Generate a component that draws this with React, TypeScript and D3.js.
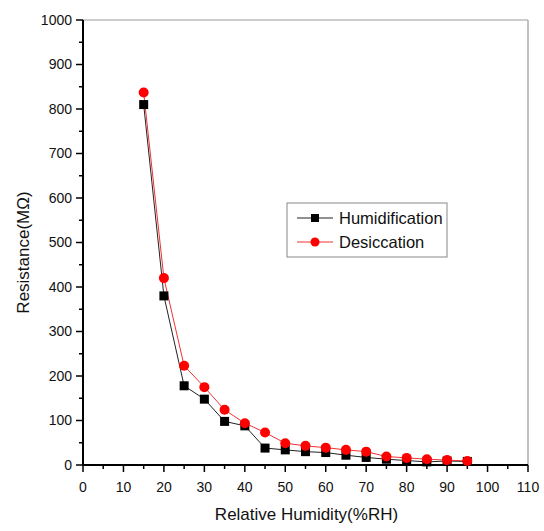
import React from 'react';
import * as d3 from 'd3';

// relative humidity (%RH)
const humidity = [15, 20, 25, 30, 35, 40, 45, 50, 55, 60, 65, 70, 75, 80, 85, 90, 95];
// resistance (MOhm)
const humidification = [810, 380, 178, 148, 98, 88, 38, 34, 30, 28, 22, 17, 13, 10, 7, 9, 8];
const desiccation = [837, 420, 223, 175, 124, 94, 73, 49, 43, 39, 34, 30, 19, 16, 13, 11, 9];

const xTicks = d3.range(0, 111, 10);
const yTicks = d3.range(0, 1001, 100);

const seriesNames = ['Humidification', 'Desiccation'];

export default function App() {
  const width = 544;
  const height = 531;
  const margin = { top: 20, right: 16, bottom: 66, left: 83 };
  const innerW = width - margin.left - margin.right;
  const innerH = height - margin.top - margin.bottom;

  const x = d3.scaleLinear().domain([0, 110]).range([0, innerW]);
  const y = d3.scaleLinear().domain([0, 1000]).range([innerH, 0]);

  const line = d3
    .line<[number, number]>()
    .x((d) => x(d[0]))
    .y((d) => y(d[1]));

  const hum: [number, number][] = humidity.map((h, i) => [h, humidification[i]]);
  const des: [number, number][] = humidity.map((h, i) => [h, desiccation[i]]);

  const font = 'Liberation Sans, Arial, sans-serif';
  const xMinor = d3.range(5, 110, 10);
  const yMinor = d3.range(50, 1000, 100);

  return (
    <svg width={width} height={height} style={{ position: 'absolute', left: 0, top: 0, background: '#fff' }}>
      <g transform={`translate(${margin.left},${margin.top})`} fontFamily={font}>
        {/* frame top/right */}
        <line x1={0} x2={innerW} y1={0} y2={0} stroke="#999" strokeWidth={1.2} />
        <line x1={innerW} x2={innerW} y1={0} y2={innerH} stroke="#999" strokeWidth={1.2} />

        {/* y axis */}
        <line x1={0} x2={0} y1={0} y2={innerH} stroke="#000" strokeWidth={2} />
        {yTicks.map((t) => (
          <g key={'yt' + t} transform={`translate(0,${y(t)})`}>
            <line x1={-7} x2={0} stroke="#000" strokeWidth={1.5} />
            <text x={-11} dy="0.35em" textAnchor="end" fontSize={14} fill="#111">
              {t}
            </text>
          </g>
        ))}
        {yMinor.map((t) => (
          <line key={'ym' + t} x1={-4} x2={0} y1={y(t)} y2={y(t)} stroke="#000" strokeWidth={1.5} />
        ))}

        {/* x axis */}
        <line x1={0} x2={innerW} y1={innerH} y2={innerH} stroke="#000" strokeWidth={2} />
        {xTicks.map((t) => (
          <g key={'xt' + t} transform={`translate(${x(t)},${innerH})`}>
            <line y1={0} y2={7} stroke="#000" strokeWidth={1.5} />
            <text y={27} textAnchor="middle" fontSize={14} fill="#111">
              {t}
            </text>
          </g>
        ))}
        {xMinor.map((t) => (
          <line key={'xm' + t} x1={x(t)} x2={x(t)} y1={innerH} y2={innerH + 4} stroke="#000" strokeWidth={1.5} />
        ))}

        {/* series */}
        <path d={line(hum) ?? ''} fill="none" stroke="#222" strokeWidth={1} />
        <path d={line(des) ?? ''} fill="none" stroke="#e33" strokeWidth={1} />
        {hum.map((d, i) => (
          <rect key={'h' + i} x={x(d[0]) - 4.5} y={y(d[1]) - 4.5} width={9} height={9} fill="#000" />
        ))}
        {des.map((d, i) => (
          <circle key={'d' + i} cx={x(d[0])} cy={y(d[1])} r={5} fill="#f00" />
        ))}

        {/* legend */}
        <g transform={`translate(${287 - margin.left},${203 - margin.top})`}>
          <rect x={0} y={0} width={160} height={54} fill="#fff" stroke="#888" strokeWidth={1} />
          {seriesNames.map((name, i) => (
            <g key={name} transform={`translate(0,${15 + i * 24})`}>
              <line x1={10} x2={46} stroke={i === 0 ? '#222' : '#e33'} strokeWidth={1} />
              {i === 0 ? (
                <rect x={24} y={-4} width={8} height={8} fill="#000" />
              ) : (
                <circle cx={28} cy={0} r={4.5} fill="#f00" />
              )}
              <text x={52} dy="0.35em" fontSize={16.5} fill="#111">
                {name}
              </text>
            </g>
          ))}
        </g>

        {/* axis titles */}
        <text x={innerW / 2 + 1} y={innerH + 55} textAnchor="middle" fontSize={17} fill="#111">
          Relative Humidity(%RH)
        </text>
        <text
          transform={`translate(${-54},${innerH / 2 + 10}) rotate(-90)`}
          textAnchor="middle"
          fontSize={17}
          fill="#111"
        >
          Resistance(MΩ)
        </text>
      </g>
    </svg>
  );
}
